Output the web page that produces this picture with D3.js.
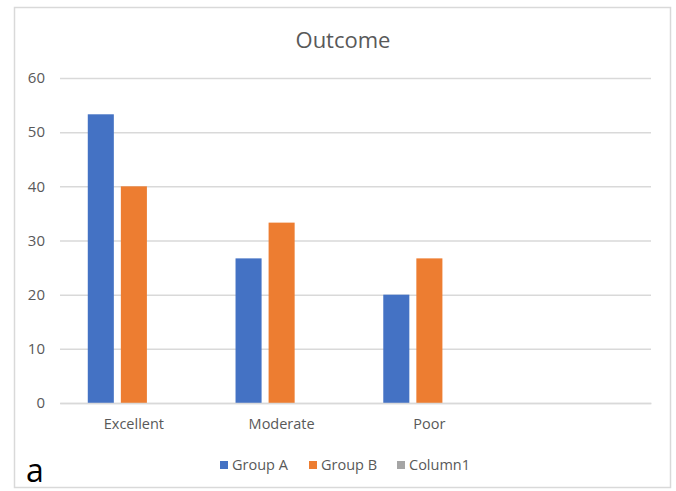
<!DOCTYPE html>
<html>
<head>
<meta charset="utf-8">
<script src="https://cdn.jsdelivr.net/npm/d3@7"></script>
<style>
  html, body { margin: 0; padding: 0; background: #fff; }
  svg { display: block; }
  text { font-family: "Open Sans", "Noto Sans", sans-serif; }
</style>
</head>
<body>
<svg id="chart" width="676" height="491"></svg>
<script>
const categories = ["Excellent", "Moderate", "Poor", ""];
const seriesNames = ["Group A", "Group B", "Column1"];
const groupA = [53.3, 26.7, 20, null];
const groupB = [40, 33.3, 26.7, null];
const column1 = [null, null, null, null];
const yTicks = [0, 10, 20, 30, 40, 50, 60];
const colors = ["#4472C4", "#ED7D31", "#A5A5A5"];
const title = "Outcome";
const panelLabel = "a";

const svg = d3.select("#chart");

// chart frame
svg.append("rect").attr("x", 14.5).attr("y", 7.5).attr("width", 656).attr("height", 480)
  .attr("fill", "#fff").attr("stroke", "#d9d9d9").attr("stroke-width", 1.5);

const plot = { left: 60, right: 651, top: 78, bottom: 403 };

const x0 = d3.scaleBand().domain(categories).range([plot.left, plot.right]).paddingInner(0).paddingOuter(0);
const x1 = d3.scaleBand().domain(seriesNames).range([0, x0.bandwidth()]).paddingInner(7 / 33).paddingOuter(0.84);
const y = d3.scaleLinear().domain([0, 60]).range([plot.bottom, plot.top]);

// gridlines
const yAxis = d3.axisLeft(y).tickValues(yTicks).tickSize(-(plot.right - plot.left)).tickPadding(15);
const gy = svg.append("g").attr("transform", `translate(${plot.left},0)`).call(yAxis);
gy.select(".domain").remove();
gy.selectAll(".tick line").attr("stroke", "#d9d9d9").attr("stroke-width", 1.5);
gy.selectAll(".tick text").attr("fill", "#595959").style("font-size", "15px");

// bars
const seriesData = [groupA, groupB, column1];
seriesNames.forEach((s, si) => {
  svg.append("g").selectAll("rect")
    .data(categories.map((c, i) => ({ c, v: seriesData[si][i] })).filter(d => d.v != null))
    .join("rect")
    .attr("x", d => x0(d.c) + x1(s))
    .attr("width", x1.bandwidth())
    .attr("y", d => y(d.v))
    .attr("height", d => y(0) - y(d.v))
    .attr("fill", colors[si]);
});

// x axis
const xAxis = d3.axisBottom(x0).tickSize(0).tickPadding(16);
const gx = svg.append("g").attr("transform", `translate(0,${plot.bottom})`).call(xAxis);
gx.select(".domain").attr("stroke", "#d9d9d9").attr("stroke-width", 1.5);
gx.selectAll(".tick text").attr("fill", "#595959").style("font-size", "14.5px");

// title
svg.append("text").attr("x", 343).attr("y", 48).attr("text-anchor", "middle")
  .attr("fill", "#595959").style("font-size", "22px").text(title);

// legend
const legendX = [220, 309, 397];
const lg = svg.append("g");
seriesNames.forEach((s, i) => {
  lg.append("rect").attr("x", legendX[i]).attr("y", 461).attr("width", 8).attr("height", 8).attr("fill", colors[i]);
  lg.append("text").attr("x", legendX[i] + 12).attr("y", 470).attr("fill", "#595959")
    .style("font-size", "14.5px").text(s);
});

// panel label
svg.append("text").attr("x", 26).attr("y", 482).attr("fill", "#000")
  .style("font-size", "32px").text(panelLabel);
</script>
</body>
</html>
